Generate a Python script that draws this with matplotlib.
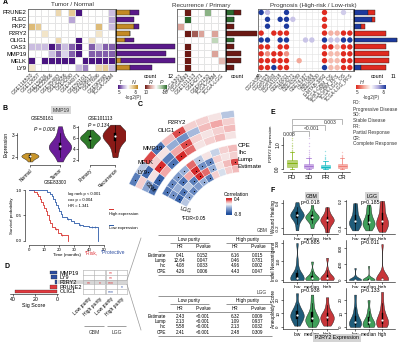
import numpy as np
import matplotlib
matplotlib.use('Agg')
import matplotlib.pyplot as plt
from matplotlib.colors import LinearSegmentedColormap, Normalize
from matplotlib.patches import Rectangle

plt.rcParams.update({
    'font.family': ['Liberation Sans', 'DejaVu Sans'],
    'font.size': 4,
    'axes.unicode_minus': False,
    'axes.linewidth': 0.4,
    'xtick.major.width': 0.4, 'ytick.major.width': 0.4,
    'xtick.major.size': 1.2, 'ytick.major.size': 1.2,
    'xtick.major.pad': 0.8, 'ytick.major.pad': 0.8,
})

# ----------------------------------------------------------------------------- data
genes = ['PRUNE2', 'PLEC', 'PKP2', 'P2RY2', 'OLIG1', 'OAS3', 'MMP19', 'MELK', 'LY9']

# A: tumour vs normal, signed -log2(P)  (>0 normal-high, <0 tumour-high)
tn_sets = ['GSE116520', 'GSE12657', 'GSE15824', 'GSE22866', 'GSE35493', 'GSE42656',
           'GSE4290', 'GSE44971', 'GSE50161', 'GSE59612', 'GSE7696', 'GSE90598', 'TCGA-GBM']
tn_logp = np.array([
    [0, 0, 0, 0, 3, 0, 4, -8, 0, 0, 0, 0, -3],
    [0, 0, 0, 0, 0, 0, -4, 0, 0, 0, 0, 0, -4],
    [5, 4, 0, 0, 0, 0, 0, 0, 0, 0, 5, 0, -3],
    [0, 0, 2, 0, 0, 0, 0, 0, 0, 0, 2, 0, 0],
    [0, 0, 0, 0, 3, 0, 0, -8, 0, 2, 0, 0, 0],
    [-3, -3, -3, -8, -6, -3, -6, -8, 0, -6, -3, -6, -6],
    [0, 0, 0, -3, -6, -2, -6, -8, 0, -6, -6, -6, -6],
    [-8, 0, -8, -8, -8, -8, -8, 0, -8, -8, -8, -8, -8],
    [2, 0, 0, 0, 0, 0, 0, -3, -5, 0, 3, 4, -3],
])
tn_count_n = np.array([3, 0, 4, 3, 2, 0, 0, 1, 3])
tn_count_t = np.array([2, 4, 1, 0, 2, 13, 11, 12, 5])

# A: recurrence vs primary  (>0 recurrence-high, <0 primary-high)
rp_sets = ['CGGA301', 'CGGA693', 'GSE101113', 'GSE4271', 'GSE62153', 'TCGA-GBM', 'TCGA-LGG']
rp_logp = np.array([
    [0, 8, 0, 0, -5, 0, 0],
    [0, -8, 0, 0, 0, 0, 0],
    [4, 0, 0, 0, 0, 0, 0],
    [0, 8, 6, 4, 0, 4, 0],
    [0, 0, 0, 0, 0, -3, 0],
    [0, 8, 0, 0, 0, 0, 0],
    [0, 8, 0, 0, 0, 4, 0],
    [0, 8, 0, 0, 0, 0, 3],
    [0, 8, 0, 0, 0, 0, 0],
])
rp_count_p = np.array([1, 1, 0, 0, 1, 0, 0, 0, 0])
rp_count_r = np.array([1, 0, 1, 4, 0, 1, 2, 2, 1])

# A: prognosis, scaled signed score  (>0 high-risk, <0 low-risk)
pg_sets = ['CGGA301', 'CGGA325', 'CGGA693', 'CGGA1018', 'GSE16011', 'GSE4271', 'GSE43289',
           'GSE74187', 'GSE7696', 'GSE83300', 'E-MTAB-3892', 'TCGA-GBM_OS', 'TCGA-GBM_PFS',
           'TCGA-LGG_OS', 'TCGA-LGG_PFS']
pg_score = np.array([
    [-1, -.4, 0, 0, -1, 0, 0, 0, 0, 0, 1, 0, 0, -.3, 0],
    [0, -1, 0, -1, -1, -.35, 0, 0, 0, 0, 1, 0, 0, 0, 0],
    [0, -1, 0, 0, -1, 0, 0, 0, 0, 0, 1, 0, 0, 0, 0],
    [1, 0, 1, 1, 1, 0, 0, 0, 0, 0, 1, .45, .45, 1, 1],
    [-1, -1, 0, -1, -1, 0, 0, -.35, -.35, 0, -1, -.35, -.35, -1, -1],
    [1, 1, 0, 1, 1, 0, 0, 0, 0, 0, 1, 1, .4, 1, 1],
    [1, .6, 1, 1, .6, 0, 0, 0, 0, 0, 1, .4, .4, 1, 1],
    [1, 1, 1, 1, 1, 0, .5, 0, 0, 0, 1, .4, .4, 1, 1],
    [1, 1, -1, 1, 1, 0, 0, 0, 0, 0, -1, .4, .4, 1, 1],
])
pg_count_l = np.array([4, 5, 2, 0, 12, 0, 0, 0, 2])
pg_count_h = np.array([2, 1, 1, 9, 0, 9, 10, 10, 7])

# B: MMP19 expression
expr_normal = [1.8, 1.9, 1.95, 2.0, 2.0, 2.05, 2.05, 2.1, 2.1, 2.15, 2.2]
expr_tumor = [1.8, 2.0, 2.2, 2.3, 2.35, 2.4, 2.45, 2.5, 2.5, 2.55, 2.6, 2.7, 2.9, 3.1, 3.4]
expr_primary = [4.2, 4.8, 5.2, 5.5, 5.7, 5.9, 6.0, 6.1, 6.2, 6.4, 6.6, 7.0, 7.5]
expr_recur = [2.5, 3.5, 4.5, 5.2, 5.6, 5.9, 6.1, 6.3, 6.5, 6.6, 6.8, 7.0, 7.3, 7.8, 8.4]

# B: Kaplan-Meier, GSE83300
km_high_t = [0, 3, 5, 6, 7, 8, 9, 10, 11, 12, 13, 14, 15, 17, 19, 21, 26]
km_high_s = [1.0, 0.96, 0.92, 0.88, 0.83, 0.77, 0.71, 0.65, 0.58, 0.5, 0.42, 0.35, 0.28,
             0.24, 0.16, 0.12, 0.0]
km_low_t = [0, 12, 14, 15, 16, 17, 18, 19, 20, 21, 22, 25, 28, 30, 33, 36, 40, 46]
km_low_s = [1.0, 0.96, 0.92, 0.88, 0.82, 0.76, 0.7, 0.64, 0.58, 0.53, 0.48, 0.44, 0.4,
            0.36, 0.32, 0.3, 0.28, 0.0]
km_high_cens = [18, 22]
km_low_cens = [26, 34, 42, 44]

# C: correlation with purity, rings CPE / Ihc / Lump / Estimate (outer -> inner)
gbm_corr = np.array([
    [-0.2, 0.05, 0.1, 0.1, 0.35, 0.15, -0.6, 0.35, -0.2, -0.55],
    [0.1, 0.2, 0.15, -0.25, -0.45, -0.3, 0.05, 0.1, -0.65, 0.1],
    [0.15, 0.1, 0.05, 0.1, 0.35, 0.2, -0.55, 0.4, 0.05, -0.35],
    [0.05, 0.15, 0.1, 0.05, 0.3, 0.4, -0.6, 0.2, -0.7, -0.6],
])
gbm_sig = np.array([
    [0, 0, 0, 0, 1, 0, 0, 0, 0, 1],
    [0, 0, 0, 0, 0, 0, 0, 0, 1, 0],
    [0, 0, 0, 0, 1, 0, 0, 1, 0, 0],
    [0, 0, 0, 0, 0, 1, 1, 0, 1, 1],
], dtype=bool)
lgg_corr = np.array([
    [0.15, 0.1, -0.15, 0.05, -0.2, 0.3, -0.3, -0.4, -0.5, -0.6],
    [0.1, 0.05, 0.1, -0.5, -0.45, 0.45, 0.2, -0.6, -0.3, -0.45],
    [0.35, 0.15, 0.05, -0.3, 0.3, 0.4, -0.55, -0.2, -0.6, -0.7],
    [0.15, 0.1, -0.1, 0.1, -0.55, -0.3, -0.4, -0.5, -0.35, -0.2],
])
lgg_sig = np.array([
    [0, 0, 0, 0, 1, 0, 1, 1, 1, 1],
    [0, 0, 0, 1, 1, 1, 0, 1, 0, 1],
    [1, 0, 0, 1, 0, 1, 1, 0, 1, 1],
    [0, 0, 0, 0, 1, 1, 0, 1, 1, 0],
], dtype=bool)
purity_methods = ['CPE', 'Ihc', 'Lump', 'Estimate']

# D: signature score and purity-stratified Cox stars
sig_genes = ['MMP19', 'LY9', 'P2RY2', 'PRUNE2', 'OLIG1']
sig_score = [7, 5.5, 2, 6.5, 38]
sig_risk = [False, False, False, True, True]
cox_stars = [['', '', '**', ''],
             ['', '', '**', ''],
             ['**', '*', '***', ''],
             ['', '', '', '*'],
             ['', '', '***', '']]
cox_star_risk = [[1, 1, 1, 1], [1, 1, 1, 1], [1, 1, 1, 1], [0, 0, 0, 0], [0, 0, 0, 0]]

tab_rows = ['Estimate', 'Lump', 'Ihc', 'CPE']
tab_gbm = [['0.41', '0.152', '6.16', '0.015'],
           ['12.64', '0.047', '0.46', '0.781'],
           ['4.08', '0.033', '4.96', '0.002'],
           ['4.26', '0.006', '4.43', '0.047']]
tab_lgg = [['2.43', '<0.001', '6.32', '0.009'],
           ['2.13', '<0.001', '1.09', '0.937'],
           ['5.58', '<0.001', '2.13', '0.032'],
           ['2.41', '<0.001', '2.48', '0.309']]

# E: P2RY2 by response (box statistics)
resp_groups = ['PD', 'SD', 'PR', 'CR']
resp_colors = ['#7cae00', '#a06ad0', '#00b5bd', '#f0736a']
resp_med = [0.24, 0.12, 0.08, 0.12]
resp_q1 = [0.08, 0.05, 0.03, 0.05]
resp_q3 = [0.38, 0.2, 0.16, 0.2]
resp_lo = [0.0, 0.0, 0.0, 0.0]
resp_hi = [0.7, 0.45, 0.35, 0.45]
resp_out = [[0.75, 0.8, 0.88, 0.95, 1.02, 1.1, 1.2, 1.3],
            [0.5, 0.55, 0.62, 0.7, 0.8, 0.95, 1.1, 1.3],
            [0.4, 0.45, 0.5, 0.6, 0.75],
            [0.5, 0.55, 0.6, 0.7]]
resp_pvals = ['0.008', '<0.001', '0.003']

# F: immune features by P2RY2 level
f_levels = ['low', 'median', 'high']
f_colors = ['#1f5c7a', '#3f9f5a', '#c8363a']
wound_gbm = [[-0.25, -0.1, 0.0, 0.05, 0.08, 0.1, 0.12, 0.15, 0.18, 0.22, 0.3, 0.42],
             [-0.2, -0.08, -0.02, 0.02, 0.05, 0.06, 0.08, 0.1, 0.14, 0.2, 0.35],
             [-0.3, -0.18, -0.1, -0.06, -0.03, 0.0, 0.02, 0.05, 0.1, 0.18, 0.3]]
wound_lgg = [[-0.45, -0.38, -0.33, -0.3, -0.28, -0.25, -0.2, -0.15, -0.05, 0.05, 0.15],
             [-0.45, -0.38, -0.34, -0.3, -0.28, -0.24, -0.18, -0.1, 0.0, 0.12],
             [-0.48, -0.4, -0.35, -0.3, -0.26, -0.22, -0.15, -0.05, 0.08, 0.2]]
indel_gbm = [[0, 2, 5, 8, 10, 15, 20, 30, 45, 80, 150, 300],
             [0, 2, 4, 8, 12, 18, 25, 40, 70, 150],
             [0, 3, 6, 10, 15, 22, 30, 45, 80, 180]]
indel_lgg = [[0, 1, 2, 4, 6, 10, 15, 30, 80, 300],
             [0, 1, 2, 3, 5, 8, 12, 25, 60, 350],
             [0, 2, 4, 8, 12, 20, 35, 60, 150, 900]]
aneu_gbm = [[1, 3, 5, 6, 7, 8, 9, 10, 11, 12, 14, 17, 25],
            [0, 2, 3, 4, 5, 6, 7, 8, 10, 13, 18, 24],
            [1, 2, 4, 5, 6, 7, 8, 9, 10, 12, 16, 22]]
aneu_lgg = [[0, 1, 1, 2, 3, 4, 5, 7, 10, 15, 24],
            [0, 0, 1, 2, 3, 4, 5, 8, 12, 20],
            [0, 1, 2, 3, 4, 5, 7, 9, 12, 18, 26]]
f_pvals = [['p=0.018', 'p=0.185'], ['p=0.885', 'p=0.011'], ['p=0.938', 'p=0.133']]

# ----------------------------------------------------------------------------- layout helpers
W, H = 400, 343
fig = plt.figure(figsize=(W / 100, H / 100), dpi=100)


def pax(x0, y0, x1, y1, **kw):
    # axes from pixel box (top-left origin)
    return fig.add_axes([x0 / W, 1 - y1 / H, (x1 - x0) / W, (y1 - y0) / H], **kw)


bg = pax(0, 0, W, H)
bg.set_xlim(0, W); bg.set_ylim(H, 0); bg.axis('off'); bg.set_zorder(-1)

ov = pax(0, 0, W, H)
ov.set_xlim(0, W); ov.set_ylim(H, 0); ov.axis('off'); ov.set_zorder(10)


def txt(x, y, s, size=4, **kw):
    kw.setdefault('ha', 'center')
    kw.setdefault('va', 'center')
    ov.text(x, y, s, fontsize=size, **kw)


def hline(x0, x1, y, color='#444', lw=0.4):
    ov.plot([x0, x1], [y, y], color=color, lw=lw, solid_capstyle='butt')


def clean(ax):
    for s in ('top', 'right'):
        ax.spines[s].set_visible(False)


def violins(ax, groups, pos, colors, widths, bw=0.5):
    parts = ax.violinplot(groups, positions=pos, widths=widths, showextrema=False, bw_method=bw)
    for body, c in zip(parts['bodies'], colors):
        body.set_facecolor(c)
        body.set_edgecolor('#1a1a1a')
        body.set_linewidth(0.3)
        body.set_alpha(1)
    ax.boxplot(groups, positions=pos, widths=0.07, showfliers=False, showcaps=False,
               patch_artist=True, manage_ticks=False,
               boxprops=dict(facecolor='black', edgecolor='black', linewidth=0.3),
               whiskerprops=dict(color='black', linewidth=0.4),
               medianprops=dict(linewidth=0))
    ax.scatter(pos, [np.median(g) for g in groups], s=2.5, color='white', zorder=5, linewidths=0)


# ----------------------------------------------------------------------------- A
tn_cmap = LinearSegmentedColormap.from_list('tn', ['#4a1580', '#b9a6d6', '#ffffff', '#e6cc96', '#c38a25'])
rp_cmap = LinearSegmentedColormap.from_list('rp', ['#2b6a2e', '#aac9a2', '#ffffff', '#dca59c', '#6b1914'])
pg_cmap = LinearSegmentedColormap.from_list('pg', ['#1c3a9e', '#b2abdd', '#ffffff', '#f3a99a', '#df2b20'])


def heat(box, vals, cmap, labels, row_labels=None, lab_size=3.8):
    ax = pax(*box)
    nr, nc = vals.shape
    ax.pcolormesh(np.arange(nc + 1), np.arange(nr + 1), vals, cmap=cmap, vmin=-8, vmax=8,
                  edgecolors='#e4e4e4', linewidth=0.4)
    ax.set_xlim(0, nc); ax.set_ylim(nr, 0)
    ax.set_xticks(np.arange(nc) + 0.5)
    ax.set_xticklabels(labels, rotation=45, ha='right', va='top', rotation_mode='anchor',
                       fontsize=lab_size, color='#333')
    ax.set_yticks(np.arange(nr) + 0.5)
    ax.set_yticklabels(row_labels if row_labels else [''] * nr, fontsize=4.2)
    ax.tick_params(length=0, pad=1)
    for s in ax.spines.values():
        s.set_color('#666'); s.set_linewidth(0.6)
    return ax


def count_bars(box, first, second, c1, c2, xmax):
    ax = pax(*box)
    y = np.arange(len(first))
    ax.barh(y, first, height=0.72, color=c1, edgecolor='#222', linewidth=0.3)
    ax.barh(y, second, left=first, height=0.72, color=c2, edgecolor='#222', linewidth=0.3)
    ax.set_xlim(0, xmax); ax.set_ylim(len(first) - 0.5, -0.5)
    ax.set_xticks([]); ax.set_yticks([])
    for s in ('top', 'right', 'bottom'):
        ax.spines[s].set_visible(False)
    ax.spines['left'].set_linewidth(0.5)
    return ax


heat((28, 9, 115, 71), tn_logp, tn_cmap, tn_sets, genes)
count_bars((116, 9, 176, 71), tn_count_n, tn_count_t, '#c38a25', '#5a1a8a', 13.3)
heat((177, 9, 225, 71), rp_logp, rp_cmap, rp_sets)
count_bars((226, 9, 258, 71), rp_count_p, rp_count_r, '#2b6a2e', '#6b1914', 4.13)

ad = pax(258, 9, 353, 71)
rr, cc_ = np.nonzero(pg_score)
ad.scatter(cc_, rr, c=pg_score[rr, cc_], cmap=pg_cmap, vmin=-1, vmax=1, s=15, linewidths=0, zorder=3)
ad.set_xlim(-0.5, 14.5); ad.set_ylim(8.5, -0.5)
ad.set_xticks(range(15))
ad.set_xticklabels(pg_sets, rotation=45, ha='right', va='top', rotation_mode='anchor',
                   fontsize=3.5, color='#333')
ad.set_yticks(range(9)); ad.set_yticklabels([''] * 9)
ad.tick_params(length=0, pad=1)
ad.grid(True, color='#e2e2e2', linewidth=0.4); ad.set_axisbelow(True)
for s in ad.spines.values():
    s.set_color('#666'); s.set_linewidth(0.6)
count_bars((354, 9, 398, 71), pg_count_l, pg_count_h, '#1c3a9e', '#df2b20', 12.4)

txt(3, 3, 'A', 5, weight='bold', ha='left')
txt(72, 5, 'Tumor / Normal', 4.5, color='#333')
txt(201, 5, 'Recurrence / Primary', 4.5, color='#333')
txt(313, 5, 'Prognosis (High-risk / Low-risk)', 4.5, color='#333', ha='center')
for x, s in [(150, 'count'), (170, '12'), (237, 'count'), (257, '4'), (377, 'count'), (393, '11')]:
    txt(x, 77, s, 3.8)

for box, cmap, direction in [((118, 85, 138, 89), tn_cmap, 1), ((145, 85, 167, 89), rp_cmap, -1),
                             ((356, 85, 386, 89), pg_cmap, -1)]:
    lg = pax(*box)
    lg.imshow(np.linspace(-direction, direction, 64)[None, :], cmap=cmap, vmin=-1, vmax=1,
              aspect='auto')
    lg.axis('off')
for x, s in [(120, 'T'), (134, 'N'), (151, 'R'), (162, 'P'), (362, 'H'), (380, 'L')]:
    txt(x, 82, s, 3.8, style='italic', color='#333')
for x, s in [(119, '5'), (136, '-5'), (146, '10'), (165, '-10'), (357, '5'), (384, '-5')]:
    txt(x, 92.5, s, 3.3, color='#333')
txt(133, 98, '-log2(P)', 3.4, color='#333')
txt(371, 98, '-log2(P)', 3.4, color='#333')

# ----------------------------------------------------------------------------- B
txt(5, 108, 'B', 5, weight='bold')
txt(61, 110, 'MMP19', 3.6, color='#333',
    bbox=dict(boxstyle='square,pad=0.25', fc='#d9d9d9', ec='none'))
txt(42, 119, 'GSE50161', 3.4)
txt(100, 119, 'GSE101113', 3.4)

b1 = pax(17, 123, 75, 165)
violins(b1, [expr_normal, expr_tumor], [0, 1], ['#c8952a', '#6b1d9a'], [0.57, 0.75], bw=0.6)
b1.set_xlim(-0.43, 1.5); b1.set_ylim(1.64, 3.55)
b1.set_yticks([2, 3]); b1.set_xticks([0, 1])
b1.set_xticklabels(['Normal', 'Tumor'], rotation=45, ha='right', va='top', rotation_mode='anchor')
b1.spines['bottom'].set_bounds(0, 1); b1.spines['left'].set_bounds(1.9, 3.1)
b1.tick_params(labelsize=3.4)
b1.set_ylabel('Expression', fontsize=3.6, labelpad=2)
clean(b1)
b1.text(0.5, 3.2, 'P = 0.006', fontsize=3.6, ha='center', style='italic')

b2 = pax(78, 123, 125, 165)
violins(b2, [expr_primary, expr_recur], [0, 1], ['#2f7a2a', '#8a1a17'], [0.8, 1.0], bw=0.6)
b2.set_xlim(-0.48, 1.4); b2.set_ylim(1.1, 8.7)
b2.set_yticks([2, 4, 6, 8]); b2.set_xticks([0, 1])
b2.set_xticklabels(['Primary', 'Recurrence'], rotation=45, ha='right', va='top', rotation_mode='anchor')
b2.spines['bottom'].set_bounds(0, 1); b2.spines['left'].set_bounds(1.8, 8.2)
b2.tick_params(labelsize=3.4)
clean(b2)
b2.text(0.35, 7.9, 'P = 0.134', fontsize=3.6, ha='center', style='italic')

txt(55, 183, 'GSE83300', 3.4)
km = pax(25, 187, 108, 245)
km.step(km_high_t, km_high_s, where='post', color='#d7302c', lw=0.6)
km.step(km_low_t, km_low_s, where='post', color='#2b5aa8', lw=0.6)
for t_c, (tt, ss), col in [(km_high_cens, (km_high_t, km_high_s), '#d7302c'),
                           (km_low_cens, (km_low_t, km_low_s), '#2b5aa8')]:
    idx = np.searchsorted(tt, t_c, side='right') - 1
    km.plot(t_c, np.asarray(ss)[idx], '|', color=col, ms=1.6, mew=0.4)
km.set_xlim(-2.9, 52.7); km.set_ylim(-0.08, 1.06)
km.set_xticks(range(0, 51, 10)); km.set_yticks([0, 0.5, 1.0])
km.set_yticklabels(['0.0', '0.5', '1.0'])
km.spines['left'].set_bounds(0, 1); km.spines['bottom'].set_bounds(0, 50)
km.tick_params(labelsize=3.2)
km.set_xlabel('Time (months)', fontsize=3.2, labelpad=1)
km.set_ylabel('Survival probability', fontsize=3.2, labelpad=1.5)
clean(km)
txt(68, 194, 'log rank p < 0.001', 3.0, ha='left')
txt(68, 200, 'cox p = 0.004', 3.0, ha='left')
txt(68, 206, 'HR = 1.341', 3.0, ha='left')
ov.plot([109, 113], [208.5, 208.5], color='#d7302c', lw=0.7)
txt(109, 213.5, 'High expression', 3.0, ha='left')
ov.plot([109, 113], [224.5, 224.5], color='#2b5aa8', lw=0.7)
txt(109, 228.5, 'Low expression', 3.0, ha='left')

# ----------------------------------------------------------------------------- C
txt(140, 105, 'C', 5, weight='bold')
corr_cmap = LinearSegmentedColormap.from_list(
    'corr', [(0, '#1f4e9c'), (0.4, '#8fa8d4'), (0.667, '#f7f7f7'), (0.85, '#f0a0a0'), (1, '#d42a2a')])
corr_norm = Normalize(-0.8, 0.4)

pc = pax(105, 98, 385, 378, projection='polar')
pc.set_ylim(0, 140)
pc.axis('off')
for corr, sig, th0, th1, r_in in [(gbm_corr, gbm_sig, 95, 155, 100), (lgg_corr, lgg_sig, 95, 152, 66)]:
    ncol = corr.shape[1]
    dth = (th1 - th0) / ncol
    th = np.deg2rad(th0 + (np.arange(ncol) + 0.5) * dth)
    for j in range(corr.shape[0]):
        r0 = r_in + (3 - j) * 7
        pc.bar(th, 7, width=np.deg2rad(dth), bottom=r0, color=corr_cmap(corr_norm(corr[j])),
               edgecolor='white', linewidth=0.25)
        pc.scatter(th[sig[j]], np.full(sig[j].sum(), r0 + 3.5), s=0.7, color='black', linewidths=0,
                   zorder=4)

for x, y, s in [(186, 122, 'P2RY2'), (175, 130, 'OLIG1'), (163, 148, 'MMP19'),
                (153, 162, 'MELK'), (147, 173, 'LY9')]:
    txt(x, y, s, 4.2, ha='right')
txt(150, 187, 'GBM', 4.0, rotation=-45)
txt(186, 210, 'LGG', 4.0, rotation=-15)
for y, s in zip([145.5, 152.5, 159.5, 166.5], purity_methods):
    txt(238, y, s, 4.5, ha='left')
txt(236, 194, 'Correlation', 3.6)
cb = pax(226, 198, 232, 215)
cb.imshow(np.linspace(0.5, -0.9, 64)[:, None], cmap=corr_cmap, norm=corr_norm, aspect='auto',
          extent=[0, 1, -0.9, 0.5])
cb.set_xticks([]); cb.set_yticks([0.4, -0.8])
cb.yaxis.tick_right()
cb.tick_params(labelsize=3.4, length=0, pad=1.5)
for s in cb.spines.values():
    s.set_visible(False)
txt(182, 219, '*FDR<0.05', 3.5, ha='left')

# ----------------------------------------------------------------------------- D
txt(7, 267, 'D', 5, weight='bold')
bg.add_patch(Rectangle((58, 279.8), 69, 4.6, color='#d6d6d6', lw=0))
db = pax(10, 270, 58, 294)
db.set_facecolor('none')
db.barh(range(5), sig_score, height=0.8,
        color=['#e0393e' if r else '#2e4fa3' for r in sig_risk], edgecolor='#222', linewidth=0.2)
db.set_xlim(42.7, -0.45); db.set_ylim(4.55, -0.55)
db.set_xticks([40, 20, 0])
db.yaxis.tick_right()
db.set_yticks(range(5)); db.set_yticklabels(sig_genes, fontsize=4)
db.tick_params(axis='y', length=0, pad=1)
db.tick_params(axis='x', labelsize=3.8)
for s in ('top', 'right', 'left'):
    db.spines[s].set_visible(False)
db.set_xlabel('Sig Score', fontsize=3.9, labelpad=1)

for k, box in enumerate([(83, 270, 105, 294), (106, 270, 127, 294)]):
    dg = pax(*box)
    dg.set_facecolor('none')
    dg.set_xlim(0, 2); dg.set_ylim(5, 0)
    dg.axvline(1, color='#aaa', lw=0.4)
    for v in range(1, 5):
        dg.axhline(v, color='#aaa', lw=0.4)
    for i in range(5):
        for j in range(2):
            s = cox_stars[i][2 * k + j]
            if s:
                dg.text(j + 0.5, i + 0.72, s, ha='center', va='center', fontsize=3.6,
                        color='#e0393e' if cox_star_risk[i][2 * k + j] else '#2e4fa3')
    dg.set_xticks([0.5, 1.5])
    dg.set_xticklabels(['Low purity', 'High purity'], rotation=45, ha='right', va='top',
                       rotation_mode='anchor', fontsize=3.6)
    dg.set_yticks([])
    dg.tick_params(length=0, pad=1.5)
    for s in dg.spines.values():
        s.set_color('#aaa'); s.set_linewidth(0.4)
txt(85, 253, '*Risk,', 3.6, ha='left', color='#e0393e')
txt(101, 253, '*Protective', 3.6, ha='left', color='#2e4fa3')
hline(84, 104, 326, '#555'); hline(107, 126, 326, '#555')
txt(94, 332, 'GBM', 3.6, color='#333'); txt(116.5, 332, 'LGG', 3.6, color='#333')
ov.plot([127, 141], [280, 238], color='#999', lw=0.5)
ov.plot([127, 141], [284.4, 330], color='#999', lw=0.5)

# purity-stratified Cox table
for title, top, rows in [('GBM', 231, tab_gbm), ('LGG', 292, tab_lgg)]:
    txt(262, top, title, 3.4, color='#333')
    hline(158, 272, top + 4)
    txt(189, top + 8.5, 'Low purity', 3.4)
    txt(248, top + 8.5, 'High purity', 3.4)
    hline(170, 209, top + 12); hline(226, 272, top + 12)
    for x, s in zip([180, 203, 235, 258], ['HR', 'P-value', 'HR', 'P-value']):
        txt(x, top + 16, s, 3.3)
    hline(158, 272, top + 20)
    for i, (name, vals) in enumerate(zip(tab_rows, rows)):
        y = top + 24.5 + i * 5.2
        txt(166, y, name, 3.3, ha='right')
        for x, v in zip([180, 203, 235, 258], vals):
            txt(x, y, v, 3.3)
    hline(158, 272, top + 44)

# ----------------------------------------------------------------------------- E
txt(273, 113, 'E', 5, weight='bold')
ea = pax(283, 115, 350, 172)
stats = [dict(med=m, q1=a, q3=b, whislo=lo, whishi=hi, fliers=f)
         for m, a, b, lo, hi, f in zip(resp_med, resp_q1, resp_q3, resp_lo, resp_hi, resp_out)]
bp = ea.bxp(stats, positions=[1, 2, 3, 4], widths=0.55, patch_artist=True, showfliers=True)
for i, c in enumerate(resp_colors):
    bp['boxes'][i].set(facecolor=c, alpha=0.55, edgecolor=c, linewidth=0.5)
    bp['medians'][i].set(color=c, linewidth=0.6)
    for ln in bp['whiskers'][2 * i:2 * i + 2] + bp['caps'][2 * i:2 * i + 2]:
        ln.set(color=c, linewidth=0.5)
    bp['fliers'][i].set(marker='o', markersize=1.0, markerfacecolor=c, markeredgewidth=0, alpha=0.4)
for (a, b), ytop in [((1, 4), 2.08), ((1, 3), 1.83), ((1, 2), 1.58)]:
    ea.plot([a, a, b, b], [ytop - 0.22, ytop, ytop, ytop - 0.22], color='#9a9a9a', lw=0.5)
ea.set_xlim(0.46, 4.47); ea.set_ylim(-0.125, 2.25)
ea.set_xticks([1, 2, 3, 4]); ea.set_xticklabels(resp_groups, fontsize=4.3)
ea.set_yticks([0, 1]); ea.set_yticklabels(['0.0', '1.0'], rotation=90, va='center', fontsize=3.4)
ea.spines['left'].set_bounds(0, 1.35)
clean(ea)
ea.set_ylabel('P2RY2 Expression', fontsize=3.2, labelpad=1.5)
txt(289, 134, resp_pvals[0], 3.6, color='#333')
txt(312, 128, resp_pvals[1], 3.6, color='#333')
txt(330, 123, resp_pvals[2], 3.6, color='#333')
for y, s in zip([103, 109, 115, 121, 127, 132.5, 138, 144],
                ['PD:', 'Progressive Disease', 'SD:', 'Stable Disease', 'PR:', 'Partial Response',
                 'CR:', 'Complete Response']):
    txt(353, y, s, 3.4, ha='left', color='#333')

# ----------------------------------------------------------------------------- F
txt(273, 191, 'F', 5, weight='bold')
txt(312, 196, 'GBM', 3.8, bbox=dict(boxstyle='square,pad=0.3', fc='#d4d4d4', ec='none'))
txt(372, 196, 'LGG', 3.8, bbox=dict(boxstyle='square,pad=0.3', fc='#d4d4d4', ec='none'))

f_rows = [
    ((200, 234), (wound_gbm, (-0.339, 0.47), [-0.2, 0.4]), (wound_lgg, (-0.53, 0.22), [-0.4, 0.2])),
    ((240, 282), (indel_gbm, (-16, 324), [0, 150, 300]), (indel_lgg, (-50, 1000), [0, 400, 800])),
    ((288, 329), (aneu_gbm, (-1.5, 28.9), [0, 10, 20]), (aneu_lgg, (-1.5, 28.9), [0, 10, 20])),
]
f_cols = [((283, 338), (0.07, 3.73)), ((346, 395), (0.33, 3.96))]
for r, ((y0, y1), *panels) in enumerate(f_rows):
    for c, (groups, ylim, yt) in enumerate(panels):
        (x0, x1), xlim = f_cols[c]
        fa = pax(x0, y0, x1, y1)
        violins(fa, groups, [1, 2, 3], f_colors, 0.9, bw=0.45)
        fa.set_xlim(*xlim); fa.set_ylim(*ylim)
        fa.set_xticks([1, 2, 3]); fa.set_xticklabels(f_levels, fontsize=3.4)
        fa.set_yticks(yt)
        fa.set_yticklabels([f'{v:g}' for v in yt], rotation=90, va='center', fontsize=3.2)
        clean(fa)
        fa.text(0.5, 0.93, f_pvals[r][c], transform=fa.transAxes, ha='center', va='center',
                fontsize=3.8)
for y, s in [(217, 'Wound Healing'), (261, 'Indel Neoantigens'), (309, 'Aneuploidy Score')]:
    txt(273, y, s, 3.4, rotation=90)
txt(337, 338, 'P2RY2 Expression', 3.8, bbox=dict(boxstyle='square,pad=0.3', fc='#d4d4d4', ec='none'))

fig.savefig('out.png', dpi=100)
